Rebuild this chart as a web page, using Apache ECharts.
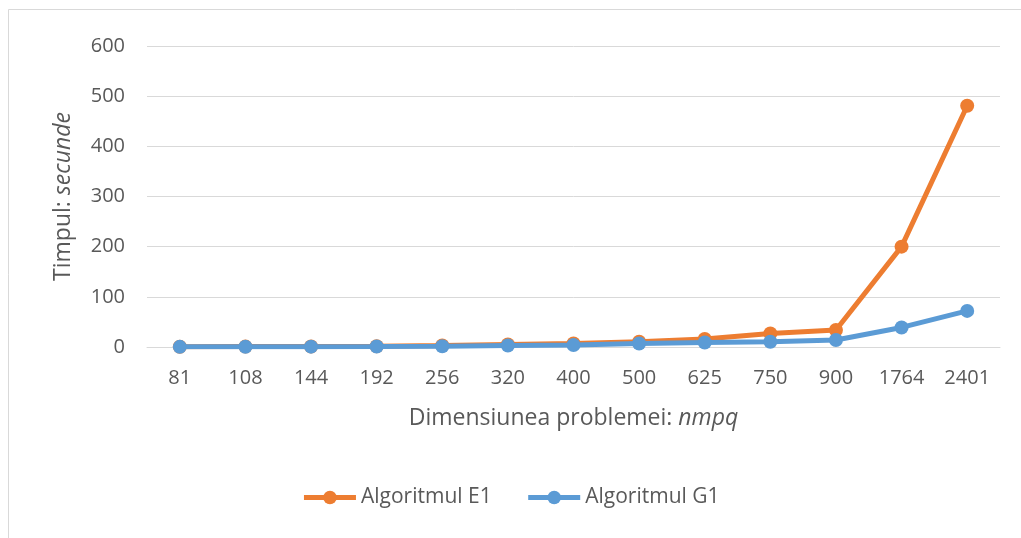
<!DOCTYPE html>
<html>
<head>
<meta charset="utf-8">
<script src="https://cdn.jsdelivr.net/npm/echarts@6/dist/echarts.min.js"></script>
<style>
  html, body { margin: 0; padding: 0; background: #fff; }
  #chart { width: 1021px; height: 538px; }
</style>
</head>
<body>
<div id="chart"></div>
<script>
// Problem sizes (nmpq) on the horizontal axis
const categories = ['81', '108', '144', '192', '256', '320', '400', '500', '625', '750', '900', '1764', '2401'];
// Running times in seconds
const seriesE1 = [0.5, 0.8, 1, 1.5, 3, 5, 7, 10.5, 16, 27, 34, 200, 481];
const seriesG1 = [0.3, 0.5, 0.7, 1, 1.5, 3, 4, 7, 9, 10.5, 14, 39, 72];
const yTicks = [0, 100, 200, 300, 400, 500, 600];

const FONT = '"Open Sans", "Noto Sans", sans-serif';
const TEXT = '#595959';
const GRID = '#d9d9d9';

const chart = echarts.init(document.getElementById('chart'), null, { renderer: 'canvas' });

function lineSeries(name, data, color) {
  return {
    name: name,
    type: 'line',
    data: data,
    symbol: 'circle',
    symbolSize: 14,
    lineStyle: { width: 5, color: color },
    itemStyle: { color: color },
    z: name === 'Algoritmul G1' ? 3 : 2,
    animation: false
  };
}

const richTitle = {
  n: { fontSize: 23, color: TEXT, fontFamily: FONT },
  i: { fontSize: 23, color: TEXT, fontFamily: FONT, fontStyle: 'italic' }
};

chart.setOption({
  backgroundColor: '#fff',
  textStyle: { fontFamily: FONT, color: TEXT },
  graphic: [{
    type: 'rect',
    shape: { x: 8.5, y: 9.5, width: 1200, height: 700 },
    style: { fill: null, stroke: GRID, lineWidth: 1 },
    silent: true
  }],
  grid: { left: 147, right: 21, top: 46, bottom: 191, containLabel: false },
  legend: {
    bottom: 25,
    left: 'center',
    itemWidth: 52,
    itemHeight: 17,
    itemGap: 34,
    lineStyle: { width: 5 },
    textStyle: { fontFamily: FONT, color: TEXT, fontSize: 21 },
    data: ['Algoritmul E1', 'Algoritmul G1']
  },
  xAxis: {
    type: 'category',
    data: categories,
    boundaryGap: true,
    axisLine: { lineStyle: { color: GRID, width: 1 } },
    axisTick: { show: false },
    axisLabel: { color: TEXT, fontSize: 20, fontFamily: FONT, margin: 21 },
    name: '{n|Dimensiunea problemei: }{i|nmpq}',
    nameLocation: 'middle',
    nameGap: 60,
    nameTextStyle: { rich: richTitle }
  },
  yAxis: {
    type: 'value',
    min: yTicks[0],
    max: yTicks[yTicks.length - 1],
    interval: 100,
    axisLine: { show: false },
    axisTick: { show: false },
    splitLine: { lineStyle: { color: GRID, width: 1 } },
    axisLabel: { color: TEXT, fontSize: 20, fontFamily: FONT, margin: 22 },
    name: '{n|Timpul: }{i|secunde}',
    nameLocation: 'middle',
    nameRotate: 90,
    nameGap: 72,
    nameTextStyle: { rich: richTitle }
  },
  series: [
    lineSeries('Algoritmul E1', seriesE1, '#ED7D31'),
    lineSeries('Algoritmul G1', seriesG1, '#5B9BD5')
  ]
});
</script>
</body>
</html>
